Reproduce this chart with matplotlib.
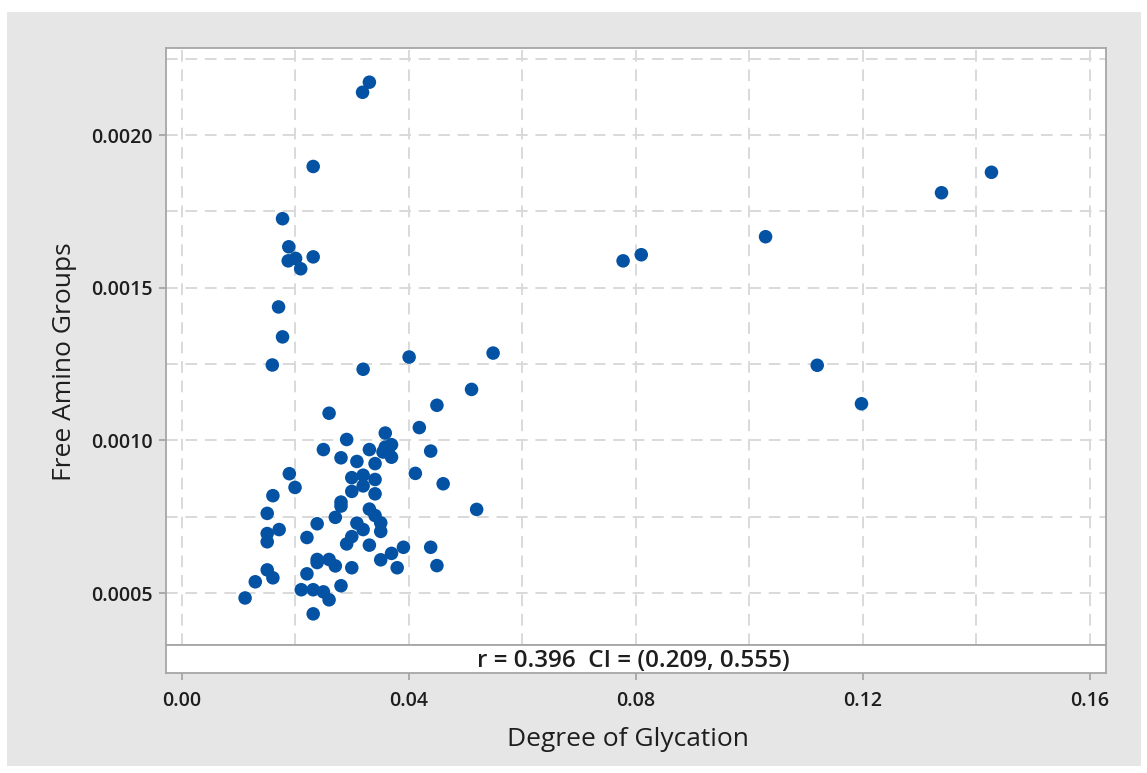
import matplotlib
matplotlib.use("Agg")
import matplotlib.pyplot as plt
from matplotlib.patches import Rectangle
from matplotlib.ticker import MultipleLocator

# Degree of glycation (x) and free amino groups (y) per sample
glycation = [
    0.0331, 0.0319, 0.0232, 0.0178, 0.0189, 0.0188, 0.0201, 0.0232, 0.0210,
    0.0171, 0.0178, 0.0160, 0.0320, 0.0401, 0.0549,
    0.0778, 0.0810, 0.1029, 0.1339, 0.1427, 0.1120, 0.1198,
    0.0511, 0.0450, 0.0260, 0.0419, 0.0359, 0.0291, 0.0250, 0.0331,
    0.0370, 0.0359, 0.0355, 0.0370, 0.0364, 0.0439, 0.0281, 0.0309,
    0.0341, 0.0190, 0.0412, 0.0320, 0.0300, 0.0341, 0.0320, 0.0200,
    0.0461, 0.0300, 0.0341, 0.0161, 0.0281, 0.0281, 0.0331, 0.0151,
    0.0341, 0.0271, 0.0520, 0.0351, 0.0239, 0.0309, 0.0320, 0.0351,
    0.0172, 0.0151, 0.0151, 0.0221, 0.0300, 0.0291, 0.0331, 0.0391,
    0.0439, 0.0370, 0.0239, 0.0239, 0.0260, 0.0271, 0.0351, 0.0300,
    0.0380, 0.0450, 0.0151, 0.0161, 0.0221, 0.0130, 0.0281, 0.0211,
    0.0232, 0.0250, 0.0260, 0.0112, 0.0232,
]
amino_groups = [
    0.002173, 0.002140, 0.001897, 0.001726, 0.001634, 0.001588, 0.001596, 0.001601, 0.001562,
    0.001437, 0.001339, 0.001247, 0.001233, 0.001273, 0.001286,
    0.001588, 0.001608, 0.001667, 0.001811, 0.001878, 0.001246, 0.001120,
    0.001167, 0.001115, 0.001089, 0.001042, 0.001024, 0.001003, 0.000970, 0.000970,
    0.000986, 0.000978, 0.000962, 0.000945, 0.000967, 0.000965, 0.000943, 0.000931,
    0.000924, 0.000891, 0.000892, 0.000886, 0.000878, 0.000872, 0.000851, 0.000846,
    0.000858, 0.000833, 0.000825, 0.000819, 0.000798, 0.000785, 0.000775, 0.000761,
    0.000754, 0.000748, 0.000774, 0.000730, 0.000727, 0.000729, 0.000708, 0.000702,
    0.000708, 0.000695, 0.000668, 0.000682, 0.000685, 0.000661, 0.000657, 0.000650,
    0.000650, 0.000630, 0.000610, 0.000600, 0.000610, 0.000589, 0.000609, 0.000583,
    0.000583, 0.000590, 0.000576, 0.000550, 0.000563, 0.000537, 0.000524, 0.000511,
    0.000511, 0.000504, 0.000478, 0.000484, 0.000432,
]

x_ticks = [0.00, 0.04, 0.08, 0.12, 0.16]
x_tick_labels = ["0.00", "0.04", "0.08", "0.12", "0.16"]
y_ticks = [0.0005, 0.0010, 0.0015, 0.0020]
y_tick_labels = ["0.0005", "0.0010", "0.0015", "0.0020"]

r_value = 0.396
ci_low, ci_high = 0.209, 0.555

W, H = 1147, 773
plt.rcParams["font.family"] = ["Open Sans", "DejaVu Sans"]
plt.rcParams["font.weight"] = "semibold"

fig = plt.figure(figsize=(W / 100, H / 100), dpi=100)
fig.patch.set_facecolor("white")
# grey panel behind the chart
fig.patches.append(Rectangle((7 / W, 1 - 766 / H), (1141 - 7) / W, (766 - 12) / H,
                             transform=fig.transFigure, facecolor="#e6e6e6",
                             edgecolor="none", zorder=-10))

left, right = 165.5 / W, 1106 / W
top, mid, bottom = 1 - 48 / H, 1 - 645 / H, 1 - 673 / H

frame_col = "#a6a6a6"
grid_col = "#d9d9d9"
text_col = "#1e1e1e"
xlim = (-0.00282, 0.16288)

ax = fig.add_axes([left, mid, right - left, top - mid])
ax.set_facecolor("white")
ax.set_xlim(*xlim)
ax.set_ylim(0.000330, 0.002285)

ax.xaxis.set_major_locator(MultipleLocator(0.02))
ax.yaxis.set_major_locator(MultipleLocator(0.00025))
ax.grid(True, color=grid_col, linestyle=(0, (6, 4)), linewidth=1.4)
ax.set_axisbelow(True)
ax.tick_params(axis="x", which="both", length=0, labelbottom=False)
ax.tick_params(axis="y", length=0, labelleft=False)
for s in ax.spines.values():
    s.set_color(frame_col)
    s.set_linewidth(1.3)

ax.scatter(glycation, amino_groups, s=95, color="#0352a3", edgecolors="none", zorder=3)

# y tick marks and labels drawn on a twin so the 0.00025 grid stays unlabeled
ay = ax.twinx()
ay.set_ylim(ax.get_ylim())
ay.yaxis.tick_left()
ay.set_yticks(y_ticks)
ay.set_yticklabels(y_tick_labels)
ay.tick_params(axis="y", direction="out", length=5, width=1.3, color=frame_col,
               labelsize=14, labelcolor=text_col, pad=4)
for s in ay.spines.values():
    s.set_visible(False)
ay.set_xlim(*xlim)
ay.tick_params(axis="x", length=0, labelbottom=False)

ax.set_ylabel("Free Amino Groups", fontsize=19, color=text_col, va="center")
ax.yaxis.set_label_coords(-0.1069, 0.474)

# strip holding the correlation summary
strip = fig.add_axes([left, bottom, right - left, mid - bottom])
strip.set_facecolor("white")
strip.set_xlim(*xlim)
strip.set_ylim(0, 1)
strip.set_yticks([])
strip.set_xticks(x_ticks)
strip.set_xticklabels(x_tick_labels)
strip.tick_params(axis="x", direction="out", length=5, width=1.3, color=frame_col,
                  labelsize=14, labelcolor=text_col, pad=8)
for s in strip.spines.values():
    s.set_color(frame_col)
    s.set_linewidth(1.3)
strip.text(0.497, 0.43, f"r = {r_value:.3f}  CI = ({ci_low:.3f}, {ci_high:.3f})",
           transform=strip.transAxes, ha="center", va="center",
           fontsize=17.5, color=text_col)
strip.set_xlabel("Degree of Glycation", fontsize=19, color=text_col, va="center")
strip.xaxis.set_label_coords(0.4918, -2.39)

fig.savefig("out.png", dpi=100)
